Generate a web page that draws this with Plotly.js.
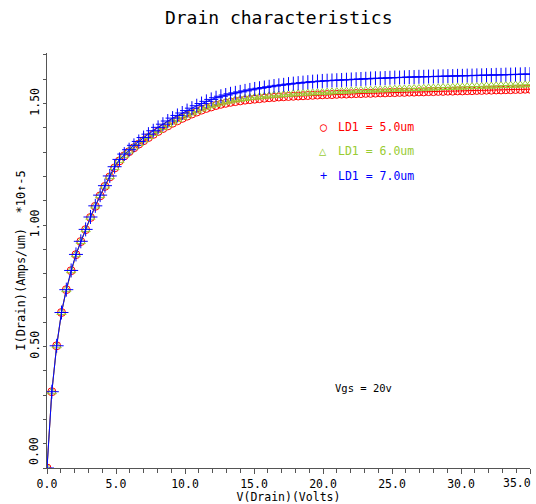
<!DOCTYPE html>
<html>
<head>
<meta charset="utf-8">
<script src="https://cdn.plot.ly/plotly-3.0.1.min.js"></script>
<style>html,body{margin:0;padding:0;background:#fff;}#chart{width:536px;height:504px;}</style>
</head>
<body>
<div id="chart"></div>
<script>
// Drain voltage (Volts)
const vDrain = [0,0.35,0.7,1.05,1.4,1.75,2.1,2.45,2.8,3.15,3.5,3.85,4.2,4.55,4.9,5.25,5.6,5.95,6.3,6.65,
7.0,7.35,7.7,8.05,8.4,8.75,9.1,9.45,9.8,10.15,10.5,10.85,11.2,11.55,11.9,12.25,12.6,12.95,13.3,13.65,
14.0,14.35,14.7,15.05,15.4,15.75,16.1,16.45,16.8,17.15,17.5,17.85,18.2,18.55,18.9,19.25,19.6,19.95,20.3,20.65,
21.0,21.35,21.7,22.05,22.4,22.75,23.1,23.45,23.8,24.15,24.5,24.85,25.2,25.55,25.9,26.25,26.6,26.95,27.3,27.65,
28.0,28.35,28.7,29.05,29.4,29.75,30.1,30.45,30.8,31.15,31.5,31.85,32.2,32.55,32.9,33.25,33.6,33.95,34.3,34.65,35.0];

// I(Drain) (Amps/um) *10^-5, LD1 = 5.0um
const iLD5 = [0,0.314,0.503,0.640,0.734,0.812,0.878,0.932,0.981,1.031,1.077,1.120,1.159,1.198,1.235,1.264,1.285,1.302,1.318,1.333,
1.347,1.360,1.373,1.385,1.397,1.408,1.419,1.429,1.439,1.448,1.457,1.465,1.473,1.480,1.486,1.492,1.497,1.501,1.505,1.508,
1.511,1.514,1.516,1.518,1.520,1.522,1.524,1.525,1.527,1.528,1.529,1.530,1.531,1.532,1.533,1.534,1.535,1.536,1.537,1.537,
1.538,1.539,1.539,1.540,1.541,1.541,1.542,1.542,1.543,1.544,1.544,1.545,1.545,1.546,1.546,1.547,1.547,1.548,1.548,1.549,
1.549,1.550,1.550,1.551,1.551,1.552,1.552,1.553,1.553,1.554,1.554,1.555,1.555,1.556,1.556,1.557,1.557,1.558,1.558,1.559,1.559];

// LD1 = 6.0um
const iLD6 = [0,0.314,0.503,0.640,0.734,0.812,0.878,0.932,0.981,1.032,1.078,1.121,1.160,1.199,1.237,1.266,1.287,1.305,1.321,1.336,
1.350,1.364,1.377,1.389,1.401,1.413,1.424,1.434,1.444,1.453,1.462,1.470,1.478,1.485,1.491,1.497,1.502,1.507,1.511,1.515,
1.518,1.521,1.524,1.526,1.528,1.530,1.532,1.534,1.535,1.537,1.538,1.540,1.541,1.542,1.543,1.544,1.545,1.546,1.547,1.548,
1.549,1.550,1.551,1.552,1.553,1.554,1.554,1.555,1.556,1.557,1.557,1.558,1.559,1.560,1.560,1.561,1.562,1.562,1.563,1.564,
1.564,1.565,1.566,1.566,1.567,1.568,1.568,1.569,1.570,1.570,1.571,1.572,1.572,1.573,1.574,1.574,1.575,1.576,1.576,1.577,1.578];

// LD1 = 7.0um
const iLD7 = [0,0.314,0.503,0.640,0.734,0.813,0.879,0.933,0.982,1.033,1.079,1.123,1.162,1.202,1.240,1.270,1.292,1.310,1.328,1.344,
1.360,1.374,1.388,1.402,1.415,1.428,1.440,1.451,1.461,1.471,1.481,1.491,1.500,1.509,1.517,1.524,1.530,1.535,1.540,1.544,
1.548,1.552,1.556,1.560,1.563,1.566,1.569,1.572,1.575,1.577,1.580,1.582,1.584,1.586,1.588,1.590,1.591,1.593,1.594,1.595,
1.596,1.597,1.598,1.599,1.600,1.601,1.602,1.603,1.604,1.604,1.605,1.606,1.607,1.607,1.608,1.609,1.609,1.610,1.610,1.611,
1.611,1.612,1.612,1.613,1.613,1.614,1.614,1.615,1.615,1.616,1.616,1.617,1.617,1.618,1.618,1.619,1.619,1.620,1.620,1.621,1.621];

const seriesNames = ['LD1 = 5.0um', 'LD1 = 6.0um', 'LD1 = 7.0um'];
const legendGlyphs = ['\u25CB', '\u25B3', '+'];
const colors = ['#ff0000', '#99cc33', '#0000ff'];
const symbols = ['circle-open', 'triangle-up-open', 'cross-thin-open'];
const sizes = [8, 8, 10];
const series = [iLD5, iLD6, iLD7];

const xTickVals = [0, 5, 10, 15, 20, 25, 30, 35];
const xTickText = ['0.0', '5.0', '10.0', '15.0', '20.0', '25.0', '30.0', ''];
const xLastTickText = '35.0';
const yTickVals = [0, 0.5, 1.0, 1.5];
const yTickText = ['', '0.50', '1.00', '1.50'];
const yFirstTickText = '0.00';

const FONT = 'DejaVu Sans Mono, Liberation Mono, monospace';

const traces = series.map((ys, i) => ({
  x: vDrain, y: ys, type: 'scatter', mode: 'lines+markers', name: seriesNames[i],
  line: {color: colors[i], width: 1},
  marker: {symbol: symbols[i], size: sizes[i], color: colors[i], line: {color: colors[i], width: 1}},
  showlegend: false
}));

const axisLine = '#555555';
const xRange = [0, 35];
const yRange = [0, 1.708];

const annotations = [];
for (let i = 0; i < 3; i++) {
  const yy = [127, 151, 176][i];
  annotations.push({xref: 'paper', yref: 'paper', x: (323 - 47) / 483, y: (467 - yy) / 414,
    text: legendGlyphs[i], showarrow: false, xanchor: 'center', yanchor: 'middle',
    font: {family: FONT, size: 12, color: colors[i]}});
  annotations.push({xref: 'paper', yref: 'paper', x: (336 - 47) / 483, y: (467 - yy) / 414,
    text: seriesNames[i], showarrow: false, xanchor: 'left', yanchor: 'middle',
    font: {family: FONT, size: 11.5, color: colors[i]}});
}
annotations.push({xref: 'paper', yref: 'paper', x: (333 - 47) / 483, y: (467 - 387) / 414,
  text: 'Vgs = 20v', showarrow: false, xanchor: 'left', yanchor: 'middle',
  font: {family: FONT, size: 10.5, color: '#000'}});
annotations.push({xref: 'x', yref: 'paper', x: xRange[1], y: 0, xanchor: 'right', yanchor: 'top',
  xshift: 3, yshift: -6, text: xLastTickText, showarrow: false,
  font: {family: FONT, size: 11.5, color: '#000'}});
annotations.push({xref: 'paper', yref: 'y', x: 0, y: yRange[0], xanchor: 'right', yanchor: 'bottom',
  xshift: -4, yshift: 1, textangle: -90, text: yFirstTickText, showarrow: false,
  font: {family: FONT, size: 11.5, color: '#000'}});

const layout = {
  width: 536, height: 504,
  margin: {l: 47, r: 6, t: 53, b: 36},
  paper_bgcolor: '#fff', plot_bgcolor: '#fff',
  font: {family: FONT, color: '#000', size: 12},
  title: {text: 'Drain characteristics', x: 0.52, xanchor: 'center', y: 0.965, yanchor: 'middle',
    font: {family: FONT, size: 18, color: '#000'}},
  showlegend: false,
  xaxis: {range: xRange, showgrid: false, zeroline: false, showline: true, linecolor: axisLine, linewidth: 1,
    ticks: 'outside', ticklen: 5, tickcolor: axisLine, tickvals: xTickVals, ticktext: xTickText,
    minor: {dtick: 1, tick0: 0, ticks: 'outside', ticklen: 4, tickcolor: axisLine, showgrid: false},
    tickfont: {family: FONT, size: 11.5}, title: {text: 'V(Drain)(Volts)', standoff: 4, font: {family: FONT, size: 11.5}}},
  yaxis: {range: yRange, showgrid: false, zeroline: false, showline: true, linecolor: axisLine, linewidth: 1,
    ticks: 'outside', ticklen: 3, tickcolor: axisLine, tickvals: yTickVals, ticktext: yTickText, tickangle: -90,
    ticklabelstandoff: -1,
    minor: {dtick: 0.1, tick0: 0, ticks: 'outside', ticklen: 3, tickcolor: axisLine, showgrid: false},
    tickfont: {family: FONT, size: 11.5}, title: {text: 'I(Drain)(Amps/um)  *10\u2191-5', standoff: 0, font: {family: FONT, size: 12}}},
  xaxis2: {range: xRange, overlaying: 'x', side: 'top', anchor: 'y', showgrid: false, zeroline: false,
    showline: true, linecolor: axisLine, ticks: 'inside', ticklen: 5, tickcolor: axisLine, dtick: 1, tick0: 0,
    showticklabels: false},
  yaxis2: {range: yRange, overlaying: 'y', side: 'right', anchor: 'x', showgrid: false, zeroline: false,
    showline: true, linecolor: axisLine, ticks: 'inside', ticklen: 5, tickcolor: axisLine, dtick: 0.1, tick0: 0,
    showticklabels: false},
  annotations: annotations
};

Plotly.newPlot('chart', traces, layout, {staticPlot: true, displayModeBar: false});
</script>
</body>
</html>
